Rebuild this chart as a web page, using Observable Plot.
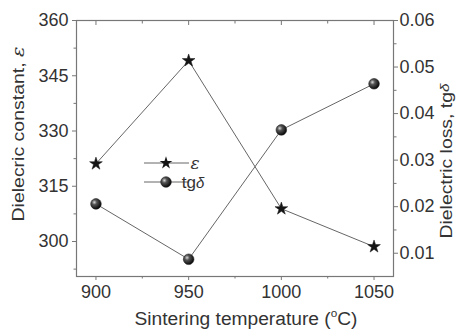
<!DOCTYPE html>
<html>
<head>
<meta charset="utf-8">
<script src="https://cdn.jsdelivr.net/npm/d3@7"></script>
<script src="https://cdn.jsdelivr.net/npm/@observablehq/plot@0.6"></script>
<style>
  html, body { margin: 0; padding: 0; background: #fff; }
  #chart svg { display: block; }
</style>
</head>
<body>
<div id="chart"></div>
<script>
// Data
const temps = [900, 950, 1000, 1050];
const epsilon = [321.1, 349.1, 308.9, 298.6];
const tanDelta = [0.0206, 0.0087, 0.0365, 0.0464];

// Ticks
const xTicks = [900, 950, 1000, 1050];
const xMinor = [925, 975, 1025];
const yTicks = [300, 315, 330, 345, 360];
const yMinor = [292.5, 307.5, 322.5, 337.5, 352.5];
const tTicks = [0.01, 0.02, 0.03, 0.04, 0.05, 0.06];
const tMinor = [0.015, 0.025, 0.035, 0.045, 0.055];
const tLabels = ["0.01", "0.02", "0.03", "0.04", "0.05", "0.06"];

const xDomain = [889.5, 1060.5];
const yDomain = [290.5, 360];
const tDomain = [0.005, 0.06];
// map right-axis (tgδ) values onto the left y scale
const t2y = t => yDomain[0] + (t - tDomain[0]) * (yDomain[1] - yDomain[0]) / (tDomain[1] - tDomain[0]);

const data = temps.map((x, i) => ({x, eps: epsilon[i], t: tanDelta[i]}));

const textColor = "#333";
const axisColor = "#777";
const fs = 18;
const font = "'Liberation Sans', Arial, sans-serif";

const plot = Plot.plot({
  width: 457,
  height: 332,
  marginLeft: 76,
  marginRight: 64,
  marginTop: 20,
  marginBottom: 56,
  style: {fontFamily: font, fontSize: fs + "px", color: textColor, background: "#fff"},
  x: {domain: xDomain},
  y: {domain: yDomain},
  marks: [
    Plot.frame({stroke: axisColor, strokeWidth: 1.2}),
    // bottom axis
    Plot.axisX({ticks: xTicks, tickFormat: d3.format("d"), tickSize: 4, tickPadding: 5, label: null, stroke: axisColor, fill: textColor, fontSize: fs}),
    Plot.axisX({ticks: xMinor, tickSize: 2.5, tickFormat: () => "", label: null, stroke: axisColor}),
    // top inward ticks
    Plot.axisX({anchor: "top", ticks: xTicks, tickSize: 4, dy: 4, tickFormat: () => "", label: null, stroke: axisColor}),
    Plot.axisX({anchor: "top", ticks: xMinor, tickSize: 2.5, dy: 2.5, tickFormat: () => "", label: null, stroke: axisColor}),
    // left axis
    Plot.axisY({ticks: yTicks, tickSize: 4, tickPadding: 4, label: null, stroke: axisColor, fill: textColor, fontSize: fs}),
    Plot.axisY({ticks: yMinor, tickSize: 2.5, tickFormat: () => "", label: null, stroke: axisColor}),
    // right axis (tgδ)
    Plot.axisY({anchor: "right", ticks: tTicks.map(t2y), tickFormat: (d, i) => tLabels[i], tickSize: 4, tickPadding: 2, label: null, stroke: axisColor, fill: textColor, fontSize: fs}),
    Plot.axisY({anchor: "right", ticks: tMinor.map(t2y), tickSize: 2.5, tickFormat: () => "", label: null, stroke: axisColor}),
    // lines
    Plot.line(data, {x: "x", y: "eps", stroke: "#666", strokeWidth: 1}),
    Plot.line(data, {x: "x", y: d => t2y(d.t), stroke: "#666", strokeWidth: 1}),
    // markers
    Plot.dot(data, {x: "x", y: "eps", symbol: "star", r: 4, fill: "#151515", stroke: "#151515", strokeWidth: 0.5}),
    Plot.dot(data, {x: "x", y: d => t2y(d.t), r: 5.3, fill: "url(#sphere)", stroke: "#222", strokeWidth: 0.6})
  ]
});

const svg = d3.select(plot);
const defs = svg.insert("defs", ":first-child");
const g = defs.append("radialGradient").attr("id", "sphere").attr("cx", "35%").attr("cy", "35%").attr("r", "65%");
g.append("stop").attr("offset", "0%").attr("stop-color", "#d8d8d8");
g.append("stop").attr("offset", "35%").attr("stop-color", "#555");
g.append("stop").attr("offset", "100%").attr("stop-color", "#0a0a0a");

// Axis titles
const xl = svg.append("text").attr("x", 246).attr("y", 325).attr("text-anchor", "middle")
  .attr("font-family", font).attr("font-size", 18).attr("fill", textColor)
  .attr("textLength", 223).attr("lengthAdjust", "spacingAndGlyphs");
xl.append("tspan").text("Sintering temperature (");
xl.append("tspan").attr("font-size", 11).attr("dy", -8).text("o");
xl.append("tspan").attr("dy", 8).text("C)");

const yl = svg.append("text").attr("transform", "translate(24,134) rotate(-90)").attr("text-anchor", "middle")
  .attr("font-family", font).attr("font-size", 17).attr("fill", textColor)
  .attr("textLength", 175).attr("lengthAdjust", "spacingAndGlyphs");
yl.append("tspan").text("Dielecric constant, ");
yl.append("tspan").attr("font-style", "italic").attr("font-family", "'DejaVu Serif', serif").text("ε");

const yr = svg.append("text").attr("transform", "translate(452,161) rotate(-90)").attr("text-anchor", "middle")
  .attr("font-family", font).attr("font-size", 16.5).attr("fill", textColor)
  .attr("textLength", 155).attr("lengthAdjust", "spacingAndGlyphs");
yr.append("tspan").text("Dielectric loss, tg");
yr.append("tspan").attr("font-style", "italic").attr("font-size", 13).attr("dy", -3).text("δ");

// Legend
const leg = svg.append("g");
const starPath = d3.symbol(d3.symbolStar, Math.PI * 4 * 4)();
leg.append("line").attr("x1", 144).attr("x2", 189).attr("y1", 163).attr("y2", 163).attr("stroke", "#666");
leg.append("path").attr("d", starPath).attr("transform", "translate(166,163)").attr("fill", "#151515");
leg.append("text").attr("x", 195).attr("y", 169).attr("font-family", "'DejaVu Serif', serif").attr("font-style", "italic").attr("font-size", 17).attr("fill", textColor).text("ε");

leg.append("line").attr("x1", 144).attr("x2", 189).attr("y1", 182).attr("y2", 182).attr("stroke", "#666");
leg.append("circle").attr("cx", 166).attr("cy", 182).attr("r", 5.3).attr("fill", "url(#sphere)").attr("stroke", "#222").attr("stroke-width", 0.6);
const lt = leg.append("text").attr("x", 193).attr("y", 188).attr("font-family", font).attr("font-size", 17).attr("fill", textColor);
lt.append("tspan").text("tg");
lt.append("tspan").attr("font-style", "italic").attr("font-size", 15).text("δ");

document.getElementById("chart").appendChild(plot);
</script>
</body>
</html>
